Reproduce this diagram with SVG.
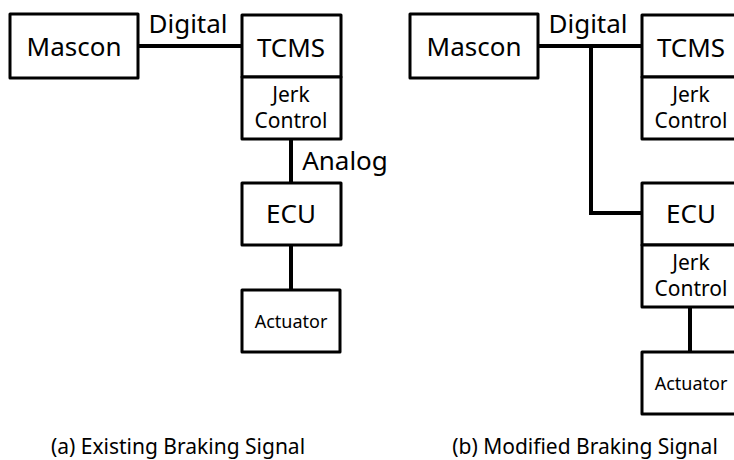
<svg xmlns="http://www.w3.org/2000/svg" width="734" height="460" viewBox="0 0 734 460">
  <style>
    .box { fill: #ffffff; stroke: #000000; stroke-width: 3; stroke-linejoin: round; }
    .wire { fill: none; stroke: #000000; stroke-width: 4; stroke-linejoin: miter; }
    text { font-family: "Noto Sans", "Open Sans", sans-serif; fill: #000000; text-anchor: middle; }
    .big { font-size: 26px; }
    .mid { font-size: 21px; }
    .small { font-size: 18px; }
    .cap { font-size: 21px; }
  </style>
  <rect width="734" height="460" fill="#ffffff"/>

  <!-- connectors -->
  <g id="connectors">
    <!-- (a) existing -->
    <line class="wire" x1="138" y1="46" x2="242" y2="46"/>
    <line class="wire" x1="291" y1="139" x2="291" y2="183"/>
    <line class="wire" x1="291" y1="245" x2="291" y2="290"/>
    <!-- (b) modified -->
    <line class="wire" x1="538" y1="46" x2="642" y2="46"/>
    <polyline class="wire" points="591,46 591,213 642,213"/>
    <line class="wire" x1="690" y1="307" x2="690" y2="352"/>
  </g>

  <!-- (a) Existing Braking Signal -->
  <g id="a-mascon">
    <rect class="box" x="10" y="14" width="128" height="64"/>
    <text class="big" x="74" y="56">Mascon</text>
  </g>
  <g id="a-tcms">
    <rect class="box" x="242" y="15" width="99" height="62"/>
    <text class="big" x="291" y="57">TCMS</text>
  </g>
  <g id="a-jerk">
    <rect class="box" x="242" y="77" width="99" height="62"/>
    <text class="mid" x="291" y="102">Jerk</text>
    <text class="mid" x="291" y="128">Control</text>
  </g>
  <g id="a-ecu">
    <rect class="box" x="242" y="183" width="99" height="62"/>
    <text class="big" x="291" y="223">ECU</text>
  </g>
  <g id="a-actuator">
    <rect class="box" x="242" y="290" width="98" height="62"/>
    <text class="small" x="291" y="328">Actuator</text>
  </g>
  <text class="big" x="188" y="33">Digital</text>
  <text class="big" x="345" y="170">Analog</text>

  <!-- (b) Modified Braking Signal -->
  <g id="b-mascon">
    <rect class="box" x="410" y="14" width="128" height="64"/>
    <text class="big" x="474" y="56">Mascon</text>
  </g>
  <g id="b-tcms">
    <rect class="box" x="642" y="15" width="99" height="62"/>
    <text class="big" x="691" y="57">TCMS</text>
  </g>
  <g id="b-jerk-tcms">
    <rect class="box" x="642" y="77" width="99" height="62"/>
    <text class="mid" x="691" y="102">Jerk</text>
    <text class="mid" x="691" y="128">Control</text>
  </g>
  <g id="b-ecu">
    <rect class="box" x="642" y="183" width="99" height="62"/>
    <text class="big" x="691" y="223">ECU</text>
  </g>
  <g id="b-jerk-ecu">
    <rect class="box" x="642" y="245" width="99" height="62"/>
    <text class="mid" x="691" y="270">Jerk</text>
    <text class="mid" x="691" y="296">Control</text>
  </g>
  <g id="b-actuator">
    <rect class="box" x="642" y="352" width="99" height="62"/>
    <text class="small" x="691" y="390">Actuator</text>
  </g>
  <text class="big" x="588" y="33">Digital</text>

  <!-- captions -->
  <text class="cap" x="178" y="454">(a) Existing Braking Signal</text>
  <text class="cap" x="585" y="454">(b) Modified Braking Signal</text>
</svg>
